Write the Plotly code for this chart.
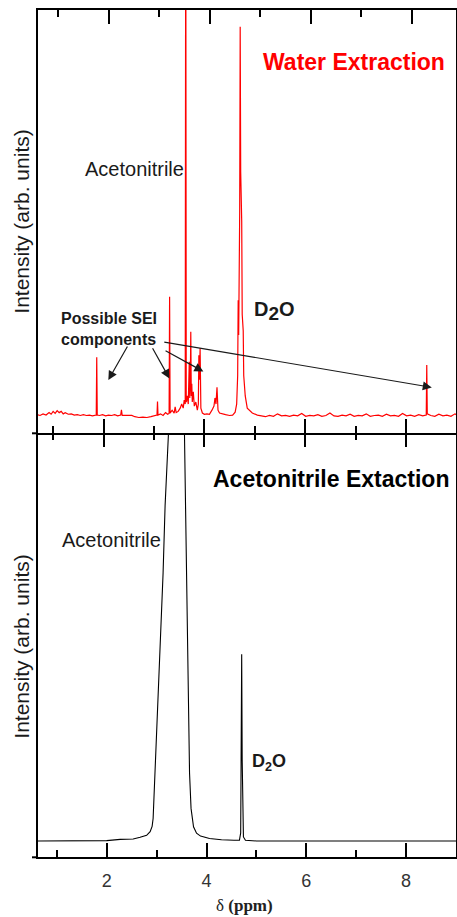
import plotly.graph_objects as go

W, H = 457, 917

# ---- Water extraction 1H NMR spectrum (red, top panel), (ppm, intensity) ----
water_low = [
    (0.68, 0.4), (0.74, 0.2), (0.80, 0.6), (0.86, 0.3), (0.92, 0.9), (0.96, 0.5),
    (1.00, 1.2), (1.04, 0.7), (1.08, 1.4), (1.12, 0.9), (1.16, 1.2), (1.20, 0.6),
    (1.24, 0.9), (1.30, 0.5), (1.36, 0.6), (1.42, 0.3), (1.48, 0.4), (1.54, 0.2),
    (1.60, 0.4), (1.66, 0.2), (1.72, 0.3), (1.78, 0.1), (1.855, 0.3), (1.865, 14.5),
    (1.875, 0.3), (1.92, 0.2), (1.98, 0.4), (2.04, 0.1), (2.10, 0.3), (2.16, 0.2),
    (2.22, 0.4), (2.28, 0.1), (2.34, 0.3), (2.355, 1.6), (2.37, 0.2), (2.44, 0.2),
    (2.50, 0.1), (2.56, 0.2), (2.62, -0.1), (2.70, -0.3), (2.78, -0.2), (2.86, -0.3),
    (2.94, -0.1), (3.00, 0.1), (3.06, 0.3), (3.07, 3.6), (3.08, 0.3), (3.13, 0.6),
    (3.18, 0.2), (3.23, 0.9), (3.27, 0.5), (3.30, 0.7), (3.31, 29.4), (3.32, 0.8),
]
water_cluster = [
    (3.36, 1.5), (3.40, 0.8), (3.42, 2.3), (3.44, 0.9), (3.48, 1.2), (3.52, 2.0),
    (3.55, 3.0), (3.58, 2.0), (3.60, 4.0), (3.62, 3.0), (3.63, 140.0), (3.64, 3.5),
    (3.66, 5.0), (3.68, 3.0), (3.69, 6.0), (3.70, 13.4), (3.71, 4.5), (3.72, 8.0),
    (3.73, 20.8), (3.74, 5.0), (3.75, 8.0), (3.76, 3.5), (3.78, 6.0), (3.80, 2.5),
    (3.83, 3.5), (3.86, 1.5), (3.88, 3.0), (3.89, 15.0), (3.90, 9.0), (3.915, 16.7),
    (3.93, 2.0), (3.96, 0.8), (4.00, 0.5), (4.05, 0.6), (4.10, 0.5), (4.15, 1.5),
    (4.19, 2.5), (4.21, 4.5), (4.23, 3.0), (4.25, 7.1), (4.27, 1.5), (4.30, 0.8),
    (4.35, 0.6), (4.42, 0.4), (4.50, 0.2), (4.56, 0.3),
]
water_d2o = [
    (4.61, 1.0), (4.64, 3.0), (4.66, 10.0), (4.67, 28.5), (4.68, 20.0), (4.70, 50.0),
    (4.71, 95.7), (4.72, 60.0), (4.74, 48.0), (4.75, 25.0), (4.77, 21.0), (4.78, 10.0),
    (4.81, 5.0), (4.85, 2.0), (4.95, 0.8),
]
water_high = [
    (5.05, 0.3), (5.13, 0.1), (5.21, -0.1), (5.29, 0.2), (5.37, 0.0), (5.45, 0.6),
    (5.53, 0.1), (5.61, 0.2), (5.69, 0.0), (5.77, 0.3), (5.85, 0.1), (5.93, 0.7),
    (6.01, 0.0), (6.09, 0.2), (6.17, 0.1), (6.25, 0.4), (6.33, 0.0), (6.41, 0.2),
    (6.49, 0.8), (6.57, 0.1), (6.65, 0.0), (6.73, 0.3), (6.81, 0.1), (6.89, 0.5),
    (6.97, 0.0), (7.05, 0.2), (7.13, 0.1), (7.21, 0.6), (7.29, 0.0), (7.37, 0.2),
    (7.45, 0.3), (7.53, 0.0), (7.61, 0.5), (7.69, 0.1), (7.77, 0.2), (7.85, 0.0),
    (7.93, 0.7), (8.01, 0.1), (8.09, 0.3), (8.17, 0.0), (8.25, 0.4), (8.33, 0.1),
    (8.40, 0.3), (8.41, 12.6), (8.42, 0.6), (8.49, 0.2), (8.57, 0.0), (8.65, 0.5),
    (8.73, 0.1), (8.81, 0.3), (8.89, 0.0), (8.97, 0.6), (9.02, 0.2),
]

# ---- Acetonitrile extraction 1H NMR spectrum (black, bottom panel) ----
acn_ppm = [
    0.62, 1.50, 2.00, 2.27, 2.53, 2.67, 2.80, 2.87, 2.91, 2.93, 2.94, 2.97, 3.02, 3.07,
    3.13, 3.17, 3.21, 3.23, 3.25, 3.39, 3.54, 3.56, 3.58, 3.60, 3.64, 3.66, 3.69, 3.71,
    3.74, 3.80, 3.88, 4.06, 4.30, 4.55, 4.66, 4.685, 4.695, 4.705, 4.715, 4.725, 4.74,
    4.78, 5.00, 6.00, 7.00, 8.00, 9.02,
]
acn_int = [
    0.0, 0.0, 0.1, 0.4, 0.5, 0.9, 1.4, 2.3, 3.6, 5.5, 8.4, 20.7, 33.0, 49.4,
    65.8, 82.2, 94.5, 100.0, 115.0, 140.0, 115.0, 99.0, 74.0, 57.6, 33.0, 16.7, 8.0, 5.5,
    3.5, 1.9, 1.2, 0.6, 0.3, 0.2, 0.2, 2.0, 20.0, 45.8, 20.0, 4.0, 1.0,
    0.2, 0.0, 0.0, 0.0, 0.0, 0.0,
]

# Axis labels and peak assignments
x_title = "δ <b>(ppm)</b>"
y_title = "Intensity (arb. units)"
top_label = "Water Extraction"
bottom_label = "Acetonitrile Extaction"
solvent_label = "Acetonitrile"
sei_label = "Possible SEI<br>components"

# Arrows from the SEI note to candidate peaks: (tail_ppm, tail_int, tip_ppm, tip_int)
sei_arrows = [
    (2.49, 17.5, 2.095, 8.9),
    (2.956, 17.1, 3.306, 9.3),
    (3.20, 16.3, 3.98, 11.0),
    (3.175, 18.3, 8.51, 7.1),
]

water = water_low + water_cluster + water_d2o + water_high
water_ppm = [p for p, _ in water]
water_int = [v for _, v in water]

FONT = "Liberation Sans, Arial, sans-serif"
SERIF = "Liberation Serif, Times New Roman, serif"


def pxx(x):
    return x / W


def pxy(y):
    return 1 - y / H


LEFT, RIGHT = 38, 456
TOP, MID, BOT = 10, 433.3, 857.3

fig = go.Figure()
fig.add_trace(go.Scatter(x=water_ppm, y=water_int, mode="lines",
                         line=dict(color="#ff0000", width=1.2),
                         xaxis="x", yaxis="y", showlegend=False, hoverinfo="skip"))
fig.add_trace(go.Scatter(x=acn_ppm, y=acn_int, mode="lines",
                         line=dict(color="#000000", width=1.1),
                         xaxis="x2", yaxis="y2", showlegend=False, hoverinfo="skip"))
# empty traces so the overlay tick axes get drawn
fig.add_trace(go.Scatter(x=[], y=[], xaxis="x3", yaxis="y", showlegend=False))
fig.add_trace(go.Scatter(x=[], y=[], xaxis="x4", yaxis="y2", showlegend=False))


def xtick_axis(rng, anchor, side, line=True, **extra):
    d = dict(
        domain=[pxx(LEFT), pxx(RIGHT)], range=rng, anchor=anchor, side=side,
        ticks="inside", ticklen=14, tickwidth=2, tickcolor="black",
        dtick=2, tick0=0,
        minor=dict(ticks="inside", ticklen=7, tickwidth=2, tickcolor="black",
                   dtick=1, tick0=0),
        showgrid=False, zeroline=False, showline=line, linecolor="black", linewidth=2,
        showticklabels=False,
    )
    d.update(extra)
    return d


def y_axis(dom, rng):
    return dict(domain=dom, range=rng, showticklabels=False, ticks="",
                showgrid=False, zeroline=False, showline=True, mirror=True,
                linecolor="black", linewidth=2)


fig.update_layout(
    width=W, height=H,
    margin=dict(l=0, r=0, t=0, b=0),
    paper_bgcolor="white", plot_bgcolor="white",
    font=dict(family=FONT, color="#1a1a1a"),
    xaxis=xtick_axis([0.70, 8.99], "y", "bottom"),
    xaxis3=xtick_axis([0.598, 8.878], "y", "top", overlaying="x"),
    xaxis2=xtick_axis([0.623, 9.0], "y2", "bottom", showticklabels=True,
                      ticklabelstandoff=6,
                      tickfont=dict(family=FONT, size=18, color="#333333")),
    xaxis4=xtick_axis([0.70, 8.99], "y2", "top", line=False, overlaying="x2"),
    yaxis=y_axis([pxy(MID), pxy(TOP)], [-4.18, 99.83]),
    yaxis2=y_axis([pxy(BOT), pxy(MID)], [-4.0, 100.0]),
    showlegend=False,
)

# short stubs of the horizontal frame lines left of the y axis
for yy in (MID, BOT):
    fig.add_shape(type="line", xref="paper", yref="paper",
                  x0=pxx(32), x1=pxx(LEFT), y0=pxy(yy), y1=pxy(yy),
                  line=dict(color="black", width=2))

ann = []


def text(x, y, s, size, color="#1a1a1a", xanchor="left", angle=0, family=FONT):
    ann.append(dict(x=pxx(x), y=pxy(y), xref="paper", yref="paper", text=s,
                    showarrow=False, xanchor=xanchor, yanchor="middle", textangle=angle,
                    align="left", borderpad=0,
                    font=dict(family=family, size=size, color=color)))


text(262, 62, f"<b>{top_label}</b>", 23, color="#ff0000")
text(84, 169, solvent_label, 20)
text(253, 311, "<b>D<sub><span style='font-size:19px'>2</span></sub>O</b>", 20)
text(60, 329, f"<b>{sei_label}</b>", 16)

text(212, 479, f"<b>{bottom_label}</b>", 23, color="#000000")
text(61, 540, solvent_label, 20)
text(251, 762, "<b>D<sub>2</sub>O</b>", 18)

text(20.7, 222, y_title, 21, xanchor="center", angle=-90)
text(20.7, 647, y_title, 21, xanchor="center", angle=-90)
text(244, 905.5, x_title, 17, xanchor="center", family=SERIF, color="#222222")

for tx, ty, hx, hy in sei_arrows:
    ann.append(dict(x=hx, y=hy, ax=tx, ay=ty, xref="x", yref="y", axref="x", ayref="y",
                    text="", showarrow=True, arrowhead=2, arrowsize=1.5, arrowwidth=1.2,
                    arrowcolor="#1a1a1a", standoff=0))

fig.update_layout(annotations=ann)

fig.write_html("out.html", config={"displayModeBar": False})
